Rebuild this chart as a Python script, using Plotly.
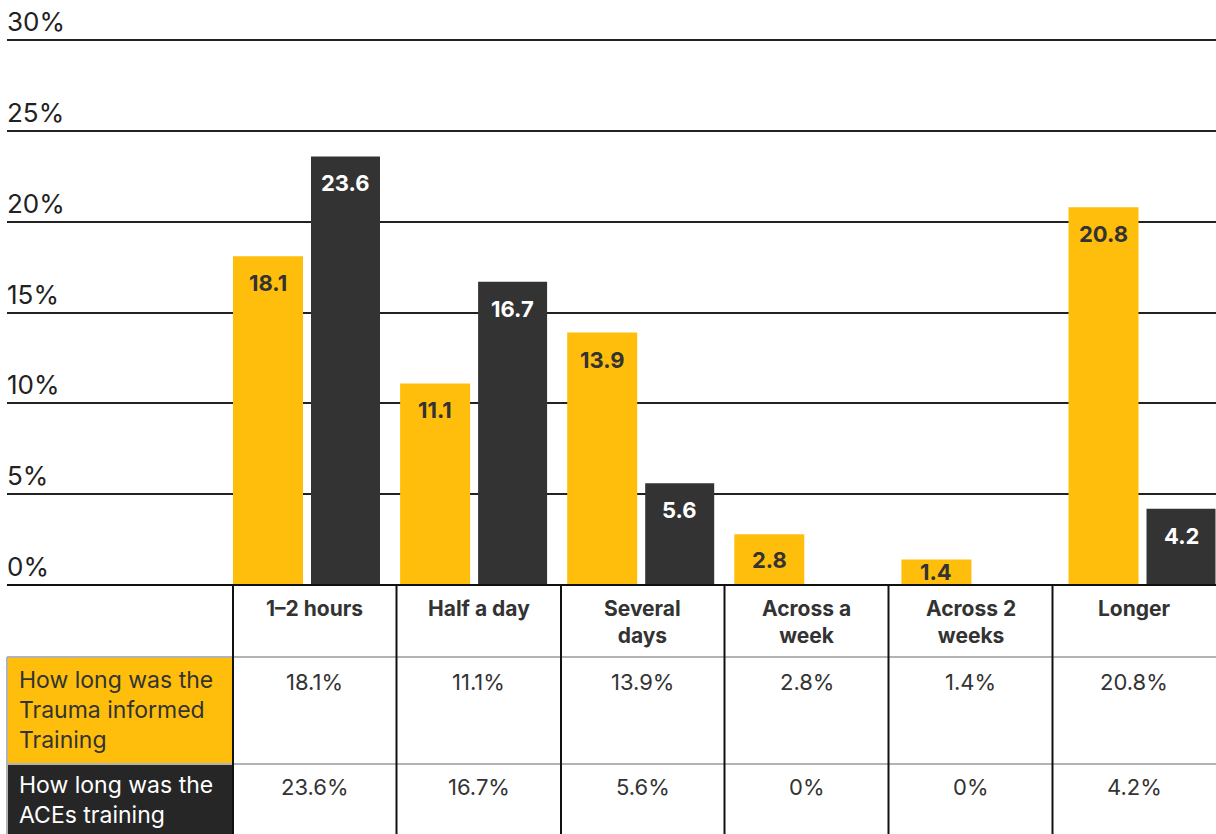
import plotly.graph_objects as go

# ---- data ----
categories = ["1–2 hours", "Half a day", "Several days", "Across a week", "Across 2 weeks", "Longer"]
header_labels = ["1–2 hours", "Half a day", "Several<br>days", "Across a<br>week", "Across 2<br>weeks", "Longer"]
trauma = [18.1, 11.1, 13.9, 2.8, 1.4, 20.8]
aces = [23.6, 16.7, 5.6, 0, 0, 4.2]
row_labels = ["How long was the<br>Trauma informed<br>Training", "How long was the<br>ACEs training"]
y_ticks = [0, 5, 10, 15, 20, 25, 30]

# ---- styling / geometry ----
W, H = 1216, 834
YMAX = 30
Y_TOP = 30.12                      # a little headroom so the top gridline is drawn
ML, MR, MB = 7, 0, 249
MT = 38
PW, PH = W - ML - MR, H - MT - MB
YELLOW = "#FFBE0B"
DARK = "#333333"
DARK_CELL = "#262626"
TEXT = "#333333"
FONT = "Inter"

# bar-group layout along the numeric x axis (one unit per category)
C0, STEP = 306.5, 167.1            # pixel centre of first group, pixel spacing
x_range = [(ML - C0) / STEP, (W - MR - C0) / STEP]
Y_OFF, Y_W = (233 - C0) / STEP, 70 / STEP
D_OFF, D_W = (311 - C0) / STEP, 69 / STEP
px_per_unit = PH / Y_TOP

# table column boundaries (pixels)
col_edges = [233, 396.5, 561, 724.5, 888.5, 1052.5, 1216]
HEAD_BOT, ROW1_BOT = 657, 764
BASE = MT + PH                     # pixel row of the 0% baseline


def PX(x):
    return (x - ML) / PW


def PY(y):
    return (BASE - y) / PH


xs = list(range(len(categories)))

fig = go.Figure()
fig.add_trace(go.Bar(x=xs, y=trauma, offset=Y_OFF, width=Y_W, marker_color=YELLOW,
                     marker_line_width=0, name="Trauma informed", hoverinfo="skip"))
fig.add_trace(go.Bar(x=xs, y=aces, offset=D_OFF, width=D_W, marker_color=DARK,
                     marker_line_width=0, name="ACEs", hoverinfo="skip"))

annotations = []
shapes = []

# value labels inside the bars
for vals, off, w, col in [(trauma, Y_OFF, Y_W, TEXT), (aces, D_OFF, D_W, "white")]:
    for i, v in enumerate(vals):
        if v <= 0:
            continue
        shift = min(27, v * px_per_unit / 2)
        annotations.append(dict(x=i + off + w / 2, y=v, xref="x", yref="y",
                                text=f"<b>{v:g}</b>", showarrow=False,
                                yanchor="middle", yshift=-shift,
                                font=dict(family=FONT, size=22, color=col)))

# y tick labels sitting above each gridline
for t in y_ticks:
    annotations.append(dict(x=0, y=t, xref="paper", yref="y", text=f"{t}%",
                            showarrow=False, xanchor="left", yanchor="bottom",
                            yshift=1, xshift=-2,
                            font=dict(family=FONT, size=26, color="#222222")))

# ---- table under the chart ----
shapes.append(dict(type="rect", xref="paper", yref="paper", x0=PX(8), x1=PX(232),
                   y0=PY(658), y1=PY(763), fillcolor=YELLOW, line_width=0, layer="above"))
shapes.append(dict(type="rect", xref="paper", yref="paper", x0=PX(8), x1=PX(232),
                   y0=PY(765), y1=PY(H + 5), fillcolor=DARK_CELL, line_width=0, layer="above"))
for yy in (HEAD_BOT, ROW1_BOT):
    shapes.append(dict(type="line", xref="paper", yref="paper", x0=PX(7), x1=PX(W),
                       y0=PY(yy), y1=PY(yy), line=dict(color="#b3b3b3", width=2), layer="above"))
shapes.append(dict(type="line", xref="paper", yref="paper", x0=PX(7), x1=PX(7),
                   y0=PY(HEAD_BOT), y1=PY(H + 5), line=dict(color="#b3b3b3", width=2), layer="above"))
for xx in col_edges[:-1]:
    shapes.append(dict(type="line", xref="paper", yref="paper", x0=PX(xx), x1=PX(xx),
                       y0=PY(BASE + 1), y1=PY(H + 5), line=dict(color="#111111", width=2), layer="above"))
# baseline / table top
shapes.append(dict(type="line", xref="paper", yref="paper", x0=0, x1=1,
                   y0=PY(BASE), y1=PY(BASE), line=dict(color="#111111", width=2), layer="above"))

for j, lab in enumerate(header_labels):
    cx = (col_edges[j] + col_edges[j + 1]) / 2
    annotations.append(dict(x=PX(cx), y=PY(594), xref="paper", yref="paper",
                            text=f"<b>{lab}</b>", showarrow=False, xanchor="center",
                            yanchor="top", align="center",
                            font=dict(family=FONT, size=21, color=TEXT)))
    for vals, ytop in [(trauma, 667), (aces, 772)]:
        annotations.append(dict(x=PX(cx), y=PY(ytop), xref="paper", yref="paper",
                                text=f"{vals[j]:g}%", showarrow=False, xanchor="center",
                                yanchor="top", font=dict(family=FONT, size=22, color=TEXT)))

for lab, ytop, col in [(row_labels[0], 664, TEXT), (row_labels[1], 769, "white")]:
    annotations.append(dict(x=PX(17), y=PY(ytop), xref="paper", yref="paper", text=lab,
                            showarrow=False, xanchor="left", yanchor="top", align="left",
                            font=dict(family=FONT, size=23, color=col)))

fig.update_layout(
    width=W, height=H,
    margin=dict(l=ML, r=MR, t=MT, b=MB, pad=0),
    paper_bgcolor="white", plot_bgcolor="white",
    barmode="overlay", showlegend=False,
    xaxis=dict(range=x_range, showgrid=False, zeroline=False, showticklabels=False,
               ticks="", fixedrange=True),
    yaxis=dict(range=[0, Y_TOP], tickvals=y_ticks, showticklabels=False, ticks="",
               showgrid=True, gridcolor="#222222", gridwidth=2, zeroline=False,
               fixedrange=True),
    annotations=annotations,
    shapes=shapes,
)

fig.write_html("out.html", config={"displayModeBar": False})
